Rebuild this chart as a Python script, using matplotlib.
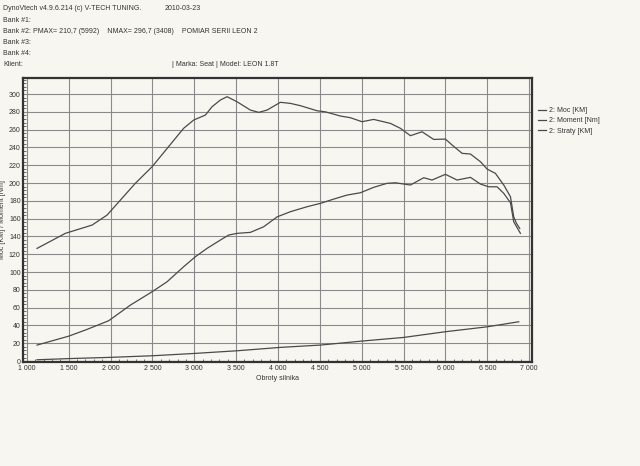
import matplotlib
matplotlib.use('Agg')
import matplotlib.pyplot as plt
import numpy as np
from matplotlib.ticker import FuncFormatter, MultipleLocator

# dane
rpm_moment = [1122, 1460, 1779, 1958, 2296, 2496, 2873, 2993, 3133, 3212, 3312, 3392,
              3511, 3670, 3770, 3870, 4029, 4148, 4268, 4467, 4566, 4745, 4865, 5004,
              5143, 5343, 5462, 5582, 5721, 5860, 6000, 6080, 6199, 6299, 6418, 6498,
              6597, 6697, 6777, 6816, 6849, 6888]
moment = [126.6, 143.5, 152.8, 164.0, 199.7, 218.3, 261.5, 270.8, 276.4, 285.7, 293.3, 297.0,
          291.3, 282.0, 279.4, 282.0, 290.7, 289.5, 286.9, 281.2, 280.0, 275.3, 273.4, 268.9,
          271.5, 267.0, 261.5, 253.2, 257.6, 249.0, 249.4, 242.7, 233.4, 232.6, 224.0, 215.7,
          210.9, 197.8, 184.6, 162.0, 154.7, 149.0]

rpm_moc = [1122, 1500, 1719, 1977, 2237, 2496, 2675, 2873, 3013, 3152, 3312, 3411, 3511,
           3670, 3829, 3989, 4148, 4347, 4507, 4666, 4825, 4984, 5143, 5303, 5402, 5582,
           5741, 5840, 6000, 6139, 6299, 6418, 6518, 6617, 6697, 6777, 6816, 6896]
moc = [18.0, 28.0, 35.6, 45.3, 62.9, 77.9, 89.1, 106.0, 117.2, 126.6, 136.0, 141.6, 143.5,
       144.6, 150.9, 162.0, 167.8, 173.4, 177.2, 182.0, 186.5, 189.1, 195.2, 199.7, 200.3, 197.8,
       206.0, 203.4, 209.8, 203.4, 206.4, 198.9, 195.8, 195.8, 188.4, 177.9, 156.5, 143.5]

rpm_straty = [1122, 1500, 2000, 2500, 3000, 3511, 4029, 4506, 5004, 5502, 6000, 6498, 6876]
straty = [1.5, 2.8, 4.2, 6.0, 8.6, 11.6, 15.4, 18.0, 22.5, 26.6, 33.0, 38.5, 44.2]

naglowek = [
    "DynoVtech v4.9.6.214 (c) V-TECH TUNING.",
    "Bank #1:",
    "Bank #2: PMAX= 210,7 (5992)    NMAX= 296,7 (3408)    POMIAR SERII LEON 2",
    "Bank #3:",
    "Bank #4:",
    "Klient:",
]
data_pomiaru = "2010-03-23"
marka = "| Marka: Seat | Model: LEON 1.8T"
legenda = ["2: Moc [KM]", "2: Moment [Nm]", "2: Straty [KM]"]

plt.rcParams['font.family'] = ['Liberation Sans', 'DejaVu Sans']
tlo = '#f8f6f0'
kolor_linii = '#4a4a4a'

fig = plt.figure(figsize=(6.4, 4.66), dpi=100, facecolor=tlo)
ax = fig.add_axes([0.0367, 0.2232, 0.794, 0.6094])
ax.set_facecolor(tlo)

l1, = ax.plot(rpm_moc, moc, color=kolor_linii, lw=0.9)
l2, = ax.plot(rpm_moment, moment, color=kolor_linii, lw=0.9)
l3, = ax.plot(rpm_straty, straty, color=kolor_linii, lw=0.9)

ax.set_xlim(960, 7030)
ax.set_ylim(-1, 318)
ax.xaxis.set_major_locator(MultipleLocator(500))
ax.yaxis.set_major_locator(MultipleLocator(20))
ax.xaxis.set_minor_locator(MultipleLocator(100))
ax.yaxis.set_minor_locator(MultipleLocator(4))
ax.xaxis.set_major_formatter(FuncFormatter(lambda v, p: f"{int(v):,}".replace(",", " ")))
ax.grid(True, which='major', color='#8a8a8a', lw=0.8)
ax.tick_params(which='both', direction='in', labelsize=5, colors='#333333', pad=2)
ax.tick_params(which='major', length=0)
ax.tick_params(which='minor', length=2, width=0.5)
for s in ax.spines.values():
    s.set_linewidth(1.6)
    s.set_color('#333333')

ax.set_xlabel("Obroty silnika", fontsize=5, color='#333333', labelpad=2)
ax.set_ylabel("Moc [KM] / Moment [Nm]", fontsize=5, color='#333333')
ax.yaxis.set_label_coords(-0.034, 0.5)

ax.legend([l1, l2, l3], legenda, loc='upper left', bbox_to_anchor=(1.0, 0.92),
          frameon=False, fontsize=5, handlelength=1.2, handletextpad=0.4,
          labelspacing=0.5, labelcolor='#333333')

for i, t in enumerate(naglowek):
    fig.text(0.005, 1 - (9 + i * 11.2) / 466, t, fontsize=5, color='#333333', va='center')
fig.text(165 / 640, 1 - 9 / 466, data_pomiaru, fontsize=5, color='#333333', va='center')
fig.text(172 / 640, 1 - 65 / 466, marka, fontsize=5, color='#333333', va='center')

fig.savefig('out.png', dpi=100, facecolor=tlo)
